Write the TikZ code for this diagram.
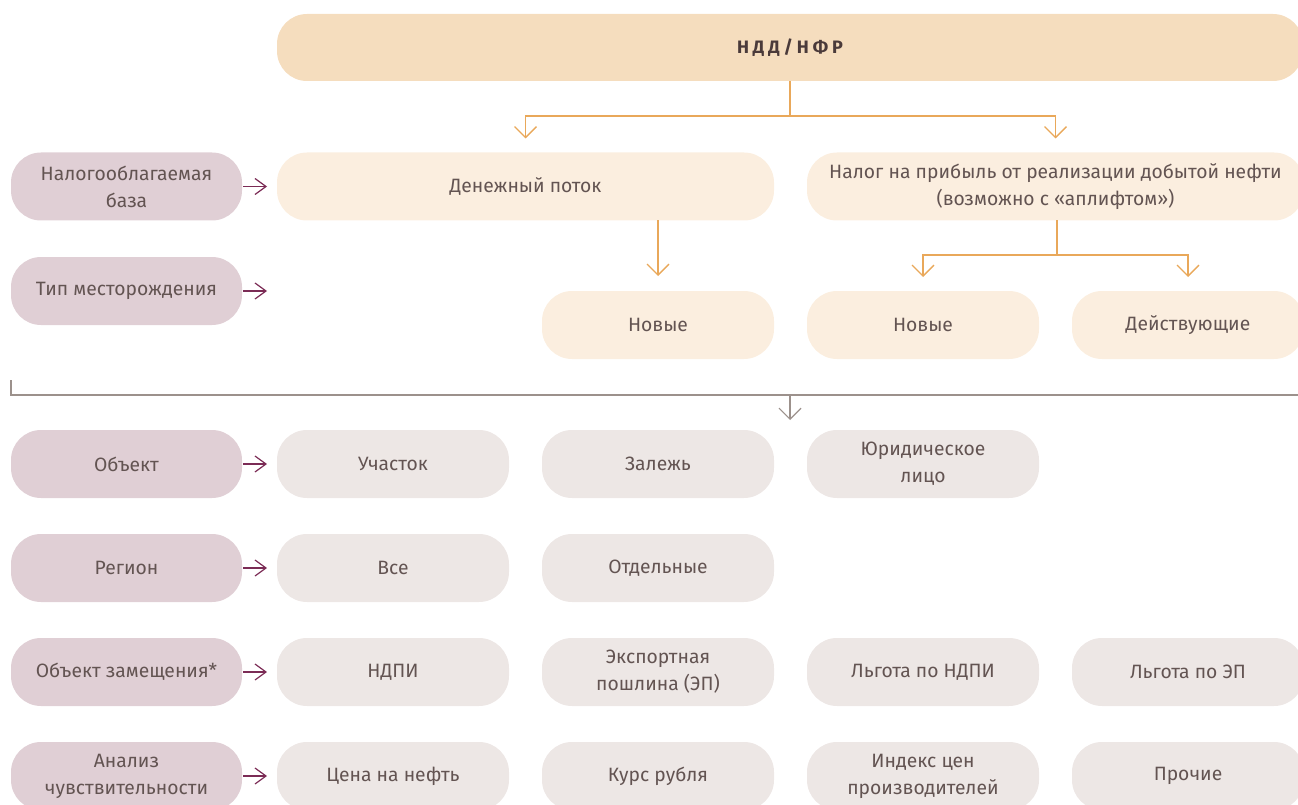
\documentclass[tikz,border=0pt]{standalone}
\usepackage{fontspec}
\setmainfont{Fira Sans}
\usetikzlibrary{arrows.meta}
\definecolor{topf}{HTML}{F5DDBE}
\definecolor{lorange}{HTML}{FBEEDF}
\definecolor{pinkf}{HTML}{E0CFD5}
\definecolor{lgray}{HTML}{EDE7E5}
\definecolor{oline}{HTML}{E9A85A}
\definecolor{pline}{HTML}{7B2B55}
\definecolor{gline}{HTML}{9C918C}
\definecolor{txt}{HTML}{635452}
\definecolor{ttl}{HTML}{4A3A3A}
\begin{document}
\begin{tikzpicture}[x=1pt,y=-1pt,
  box/.style={rectangle, rounded corners=30pt, minimum width=232pt, minimum height=68pt,
    inner sep=0pt, outer sep=0pt, align=center, text=txt, font=\fontsize{19.3}{27}\selectfont},
  labbox/.style={box, fill=pinkf, minimum width=231pt},
  obox/.style={box, fill=lorange},
  gbox/.style={box, fill=lgray},
  oarrow/.style={draw=oline, line width=1.3pt, -{Straight Barb[length=11pt,width=22pt]}},
  oline/.style={draw=oline, line width=1.3pt},
  parrow/.style={draw=pline, line width=1.2pt, -{Straight Barb[length=11pt,width=16pt]}},
  garrow/.style={draw=gline, line width=1.2pt, -{Straight Barb[length=11pt,width=22pt]}},
  gline/.style={draw=gline, line width=1.2pt}
]
\useasboundingbox (0,0) rectangle (1298,805);
\clip (0,0) rectangle (1298,805);

% top
\node[box, fill=topf, minimum width=1026pt, minimum height=67pt, text=ttl,
  font=\fontsize{18}{27}\selectfont\bfseries\addfontfeatures{LetterSpace=22}] (top) at (790,47.5) {НДД/НФР};

% row 1
\node[labbox] (l1) at (126.5,186.5) {Налогооблагаемая\\база};
\node[obox, minimum width=497pt] (dp) at (525.5,186.5) {Денежный поток};
\node[obox, minimum width=497pt] (np) at (1055.5,186.5) {Налог на прибыль от реализации добытой нефти\\(возможно с «аплифтом»)};

% row 2
\node[labbox] (l2) at (126.5,291) {Тип месторождения};
\node[obox] (n1) at (658,325) {Новые};
\node[obox] (n2) at (923,325) {Новые};
\node[obox] (dv) at (1188,325) {Действующие};

% row 3
\node[labbox] (l3) at (126.5,464) {Объект};
\node[gbox] (a1) at (393,464) {Участок};
\node[gbox] (a2) at (658,464) {Залежь};
\node[gbox] (a3) at (923,464) {Юридическое\\лицо};

% row 4
\node[labbox] (l4) at (126.5,568) {Регион};
\node[gbox] (b1) at (393,568) {Все};
\node[gbox] (b2) at (658,568) {Отдельные};

% row 5
\node[labbox] (l5) at (126.5,672) {Объект замещения*};
\node[gbox] (c1) at (393,672) {НДПИ};
\node[gbox] (c2) at (658,672) {Экспортная\\пошлина (ЭП)};
\node[gbox] (c3) at (923,672) {Льгота по НДПИ};
\node[gbox] (c4) at (1188,672) {Льгота по ЭП};

% row 6
\node[labbox] (l6) at (126.5,776) {Анализ\\чувствительности};
\node[gbox] (d1) at (393,776) {Цена на нефть};
\node[gbox] (d2) at (658,776) {Курс рубля};
\node[gbox] (d3) at (923,776) {Индекс цен\\производителей};
\node[gbox] (d4) at (1188,776) {Прочие};

% purple arrows
\coordinate (e2) at (267,291);
\draw[parrow, shorten <=1pt, shorten >=10pt] (l1) -- (dp);
\draw[parrow, shorten <=1pt] (l2.east) -- (e2);
\draw[parrow, shorten <=1pt, shorten >=10pt] (l3) -- (a1);
\draw[parrow, shorten <=1pt, shorten >=10pt] (l4) -- (b1);
\draw[parrow, shorten <=1pt, shorten >=10pt] (l5) -- (c1);
\draw[parrow, shorten <=1pt, shorten >=10pt] (l6) -- (d1);

% orange connectors
\coordinate (j1) at (790,116);
\draw[oline] (top.south) -- (j1);
\draw[oarrow, shorten >=14pt] (j1) -| (dp.north);
\draw[oarrow, shorten >=14pt] (j1) -| (np.north);
\draw[oarrow, shorten >=15pt] (dp.south -| n1) -- (n1.north);
\coordinate (j2) at (1057,255);
\draw[oline] (np.south -| j2) -- (j2);
\draw[oarrow, shorten >=14pt] (j2) -| (n2.north);
\draw[oarrow, shorten >=14pt] (j2) -| (dv.north);

% gray separator
\coordinate (g0) at (11,380);
\coordinate (g1) at (11,395);
\coordinate (g2) at (1298,395);
\coordinate (g3) at (790,395);
\draw[gline] (g0) -- (g1) -- (g2);
\draw[garrow, shorten >=10pt] (g3) -- (g3 |- a3.north);
\end{tikzpicture}
\end{document}
